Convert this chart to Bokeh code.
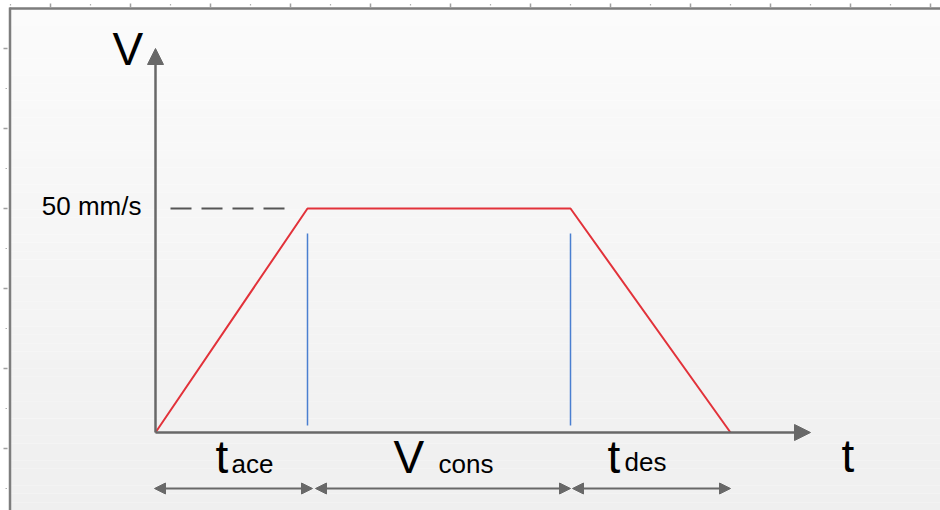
from bokeh.plotting import figure
from bokeh.models import Range1d, Arrow, NormalHead
from bokeh.core.properties import value
from bokeh.embed import file_html
from bokeh.resources import INLINE

# Trapezoidal velocity profile: corner times (arbitrary time units) and speeds
t_points = [0.0, 1.52, 4.15, 5.75]
v_points = [0, 50, 50, 0]
v_cruise = 50
v_cruise_label = "50 mm/s"

# phase labels: main letter + subscript, one per phase
phase_main = ["t", "V", "t"]
phase_sub = ["ace", "cons", "des"]
axis_labels = ["V", "t"]

W, H = 940, 510
X0_PX, Y0_PX = 155, 432          # where the origin sits on the page
PX_PER_T, PX_PER_V = 100.0, 4.48  # scale of each axis


def tx(px):
    """page x (px) -> time units"""
    return (px - X0_PX) / PX_PER_T


def vy(py):
    """page y (px, from top) -> speed units"""
    return (Y0_PX - py) / PX_PER_V


p = figure(width=W, height=H, output_backend="svg", toolbar_location=None,
           x_axis_type=None, y_axis_type=None,
           x_range=Range1d(tx(0), tx(W)), y_range=Range1d(vy(H), vy(0)),
           min_border=0, background_fill_color="white",
           border_fill_color="white", outline_line_color=None)
p.grid.visible = False

# soft vertical gradient inside the frame
n = 60
top_px, bot_px = 8, H
tops, bots, cols = [], [], []
for i in range(n):
    a = top_px + (bot_px - top_px) * i / n
    b = top_px + (bot_px - top_px) * (i + 1) / n
    f = (i + 0.5) / n
    c = round(251 - 12 * f)
    tops.append(vy(a))
    bots.append(vy(b) - 0.01)
    cols.append("#%02x%02x%02x" % (c, c, c))
p.quad(left=tx(10), right=tx(W), top=tops, bottom=bots,
       fill_color=cols, line_color=None)

# frame edges
p.line([tx(9.5), tx(9.5)], [vy(7), vy(H)], line_color="#7d7d7d", line_width=2.5)
p.line([tx(9), tx(W)], [vy(8), vy(8)], line_color="#7d7d7d", line_width=2.5)

# ruler marks along the top and left edges
rx_big = [50 + 80 * k for k in range(12)]
rx_small = [10 + 80 * k for k in range(12)]
p.segment(x0=[tx(x) for x in rx_big], x1=[tx(x) for x in rx_big],
          y0=vy(3), y1=vy(7), line_color="#a0a0a0", line_width=1.5)
p.segment(x0=[tx(x) for x in rx_small], x1=[tx(x) for x in rx_small],
          y0=vy(3.5), y1=vy(5), line_color="#b0b0b0", line_width=1.2)
ry_big = [48 + 80 * k for k in range(6)]
ry_small = [88 + 80 * k for k in range(6)]
p.segment(x0=tx(3), x1=tx(7), y0=[vy(y) for y in ry_big], y1=[vy(y) for y in ry_big],
          line_color="#a0a0a0", line_width=1.5)
p.segment(x0=tx(5), x1=tx(6.5), y0=[vy(y) for y in ry_small], y1=[vy(y) for y in ry_small],
          line_color="#b0b0b0", line_width=1.2)

axis_col = "#686868"
# axes with arrow heads
p.add_layout(Arrow(x_start=0, y_start=0, x_end=0, y_end=vy(48),
                   line_color=axis_col, line_width=2.5,
                   end=NormalHead(size=16, fill_color=axis_col, line_color=axis_col)))
p.add_layout(Arrow(x_start=0, y_start=0, x_end=tx(810), y_end=0,
                   line_color=axis_col, line_width=2.5,
                   end=NormalHead(size=16, fill_color=axis_col, line_color=axis_col)))

# reference line at cruise speed
p.line([tx(170), t_points[1] - 0.17], [v_cruise, v_cruise],
       line_color="#555555", line_width=1.8, line_dash="21 10")

# phase boundaries
p.segment(x0=t_points[1:3], x1=t_points[1:3],
          y0=vy(425), y1=v_cruise - 25 / PX_PER_V,
          line_color="#4a7fd0", line_width=1.5)

# velocity profile
p.line(t_points, v_points, line_color="#e2323a", line_width=2)

# duration arrows under each phase
ya = vy(488)
gaps = [(-1, 5), (8, 0), (2, 0)]
for i in range(3):
    g0, g1 = gaps[i]
    p.add_layout(Arrow(x_start=t_points[i] + g0 / PX_PER_T, y_start=ya,
                       x_end=t_points[i + 1] + g1 / PX_PER_T, y_end=ya,
                       line_color=axis_col, line_width=2,
                       start=NormalHead(size=11, fill_color=axis_col, line_color=axis_col),
                       end=NormalHead(size=11, fill_color=axis_col, line_color=axis_col)))

font = value("Liberation Sans")


def put_text(xs, ys, texts, size, align="left"):
    # baseline placement, nudged so the glyph baseline lands on y
    p.text(x=xs, y=ys, text=texts, text_font=font,
           text_font_size=f"{size}px", text_color="black",
           text_baseline="alphabetic", text_align=align,
           y_offset=-round(0.375 * size))


# axis names
put_text([tx(112), tx(841)], [vy(65), vy(472)], axis_labels, 46)
# cruise speed value
put_text([tx(141)], [vy(215)], [v_cruise_label], 26, align="right")

# phase names, placed relative to each phase start
main_off = [60, 86, 37]
sub_off = [76, 131, 54]
main_x = [t_points[i] + main_off[i] / PX_PER_T for i in range(3)]
sub_x = [t_points[i] + sub_off[i] / PX_PER_T for i in range(3)]
put_text(main_x, [vy(473)] * 3, phase_main, 46)
put_text(sub_x, [vy(473), vy(473), vy(471)], phase_sub, 26)

open("out.html", "w").write(file_html(p, INLINE))
